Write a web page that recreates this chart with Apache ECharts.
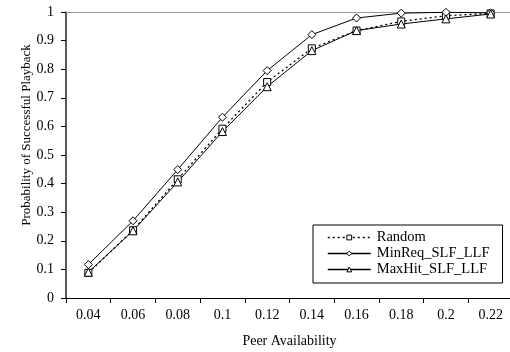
<!DOCTYPE html>
<html>
<head>
<meta charset="utf-8">
<title>echarts</title>
<script src="https://cdn.jsdelivr.net/npm/echarts@6/dist/echarts.min.js"></script>
<style>
  html, body { margin: 0; padding: 0; width: 100%; height: 100%; overflow: hidden; background: #fff; }
  #main { width: 510px; height: 352px; }
</style>
</head>
<body>
<div id="main"></div>
<script>
// x categories (peer availability)
var categories = ['0.04', '0.06', '0.08', '0.1', '0.12', '0.14', '0.16', '0.18', '0.2', '0.22'];
var yTicks = [0, 0.1, 0.2, 0.3, 0.4, 0.5, 0.6, 0.7, 0.8, 0.9, 1];

var random = [0.088, 0.237, 0.415, 0.592, 0.755, 0.873, 0.935, 0.967, 0.987, 0.995];
var minReq = [0.117, 0.270, 0.449, 0.632, 0.795, 0.921, 0.979, 0.996, 0.999, 0.997];
var maxHit = [0.090, 0.235, 0.406, 0.582, 0.739, 0.865, 0.935, 0.958, 0.976, 0.993];

var font = 'Liberation Serif, Times New Roman, serif';
var dots = [2, 3];

var chart = echarts.init(document.getElementById('main'));

function line(name, data, symbol, type, size) {
  return {
    name: name,
    type: 'line',
    data: data,
    symbol: symbol,
    symbolSize: size,
    showAllSymbol: true,
    lineStyle: { color: '#000', width: type === 'solid' ? 1 : 1.3, type: type },
    itemStyle: { color: '#fff', borderColor: '#000', borderWidth: 1 },
    emphasis: { disabled: true },
    z: 3
  };
}

function legendItem(name, type) {
  return {
    name: name,
    lineStyle: { color: '#000', width: 1.5, type: type },
    itemStyle: { color: '#fff', borderColor: '#000', borderWidth: 1 }
  };
}

chart.setOption({
  animation: false,
  textStyle: { fontFamily: font },
  grid: { left: 66, top: 12, width: 447, height: 286, outerBoundsMode: 'none', containLabel: false },
  legend: {
    left: 313, top: 225,
    orient: 'vertical',
    padding: [5, 13, 6, 14],
    itemGap: 1,
    itemWidth: 43, itemHeight: 6,
    borderColor: '#000', borderWidth: 1,
    borderRadius: 0,
    backgroundColor: '#fff',
    textStyle: { fontFamily: font, fontSize: 14.5, color: '#000', padding: [0, 0, 0, 1] },
    data: [
      legendItem('Random', dots),
      legendItem('MinReq_SLF_LLF', 'solid'),
      legendItem('MaxHit_SLF_LLF', 'solid')
    ]
  },
  xAxis: [{
    type: 'category',
    data: categories,
    boundaryGap: true,
    name: 'Peer Availability',
    nameLocation: 'middle',
    nameGap: 36,
    nameMoveOverlap: false,
    nameTextStyle: { fontFamily: font, fontSize: 14, color: '#000' },
    axisLine: { lineStyle: { color: '#000', width: 1 } },
    axisTick: { show: true, length: 5, lineStyle: { color: '#000' } },
    axisLabel: { fontFamily: font, fontSize: 14, color: '#000', margin: 10 },
    splitLine: { show: false }
  }, {
    type: 'category',
    data: categories,
    position: 'top',
    axisLine: { lineStyle: { color: '#999', width: 1 } },
    axisTick: { show: false },
    axisLabel: { show: false },
    splitLine: { show: false }
  }],
  yAxis: {
    type: 'value',
    min: yTicks[0], max: yTicks[yTicks.length - 1], interval: 0.1,
    name: 'Probability of Successful Playback',
    nameLocation: 'middle',
    nameGap: 33,
    nameMoveOverlap: false,
    nameTextStyle: { fontFamily: font, fontSize: 13, color: '#000', padding: [0, 0, 0, 40] },
    axisLine: { show: true, lineStyle: { color: '#222', width: 1.5 } },
    axisTick: { show: true, length: 5, lineStyle: { color: '#000' } },
    axisLabel: { fontFamily: font, fontSize: 14, color: '#000', margin: 12 },
    splitLine: { show: false }
  },
  series: [
    line('Random', random, 'rect', dots, 7),
    line('MinReq_SLF_LLF', minReq, 'diamond', 'solid', 8),
    line('MaxHit_SLF_LLF', maxHit, 'triangle', 'solid', 8)
  ]
});
</script>
</body>
</html>
